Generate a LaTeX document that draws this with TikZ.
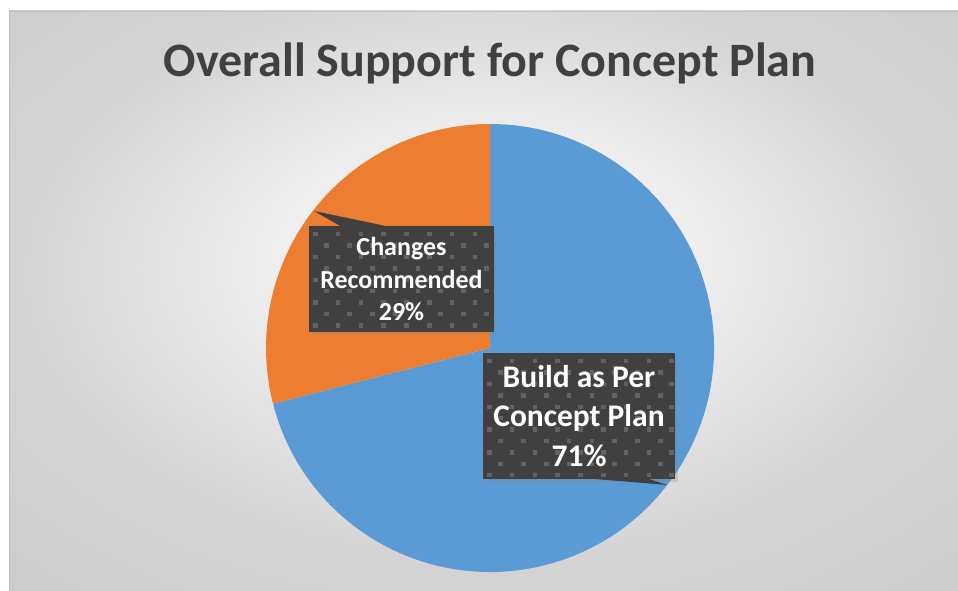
\documentclass[tikz,border=0pt]{standalone}
\usepackage{fontspec}
\setmainfont{Carlito}
\usetikzlibrary{positioning,shadows}

\definecolor{sliceBlue}{HTML}{5B9BD5}
\definecolor{sliceOrange}{HTML}{ED7D31}
\definecolor{titleGray}{HTML}{404040}
\definecolor{boxGray}{HTML}{404040}
\definecolor{dotGray}{HTML}{626262}
\definecolor{frameGray}{HTML}{BFBFBF}

\pgfdeclareradialshading{chartback}{\pgfpoint{0bp}{4bp}}{color(0bp)=(white); color(6bp)=(white!97!black); color(25bp)=(black!17); color(40bp)=(black!21); color(60bp)=(black!21)}

% dotted fill of the label boxes
\newcommand{\dotpattern}{%
  \foreach \i in {0,...,9}
    \foreach \j in {0,...,11}
      {\pgfmathsetmacro{\off}{mod(\j,2)*11.4}
       \fill[dotGray] ([shift={(\i*22.8pt+\off pt+4pt,-\j*11.4pt-6pt)}]path picture bounding box.north west) rectangle ++(4.5pt,-4.5pt);}%
}

\begin{document}
\begin{tikzpicture}[x=1pt,y=1pt,
  labelbox/.style={fill=boxGray,text=white,align=center,inner sep=0pt,
    drop shadow={shadow xshift=3pt,shadow yshift=-3pt,opacity=0.25},
    path picture={\dotpattern}},
  pointer/.style={fill=boxGray}]

  \def\pieR{224}
  \def\splitAngle{194.4}

  % Background
  \useasboundingbox (0,0) rectangle (958,591);
  \fill[white] (0,0) rectangle (958,591);
  \shade[shading=chartback] (9,0) rectangle (958,580);
  \draw[frameGray] (9,0) -- (9,580) -- (958,580);

  % Title
  \node[font=\bfseries\fontsize{48}{58}\selectfont,text=titleGray,anchor=base] (title) at (490,514) {Overall Support for Concept Plan};

  % Pie
  \coordinate (ctr) at (490,243);
  \fill[sliceBlue] (ctr) -- ++(\splitAngle:\pieR) arc[start angle=\splitAngle,end angle=450,radius=\pieR] -- cycle;
  \fill[sliceOrange] (ctr) -- ++(90:\pieR) arc[start angle=90,end angle=\splitAngle,radius=\pieR] -- cycle;

  % Labels
  \node[labelbox,minimum width=185pt,minimum height=106pt,font=\bfseries\fontsize{26}{32.5}\selectfont] (chg) at (401.5,312) {Changes\\Recommended\\29\%};
  \node[labelbox,minimum width=192pt,minimum height=126pt,font=\bfseries\fontsize{31.5}{39.5}\selectfont] (bld) at (579,175) {Build as Per\\Concept Plan\\71\%};

  % Pointers
  \coordinate (chgtip) at (314,380);
  \coordinate (bldtip) at (667,106);
  \fill[pointer] ([xshift=31pt]chg.north west) -- (chgtip) -- ([xshift=76pt]chg.north west) -- cycle;
  \fill[pointer] ([xshift=114pt]bld.south west) -- (bldtip) -- ([xshift=167pt]bld.south west) -- cycle;
\end{tikzpicture}
\end{document}
